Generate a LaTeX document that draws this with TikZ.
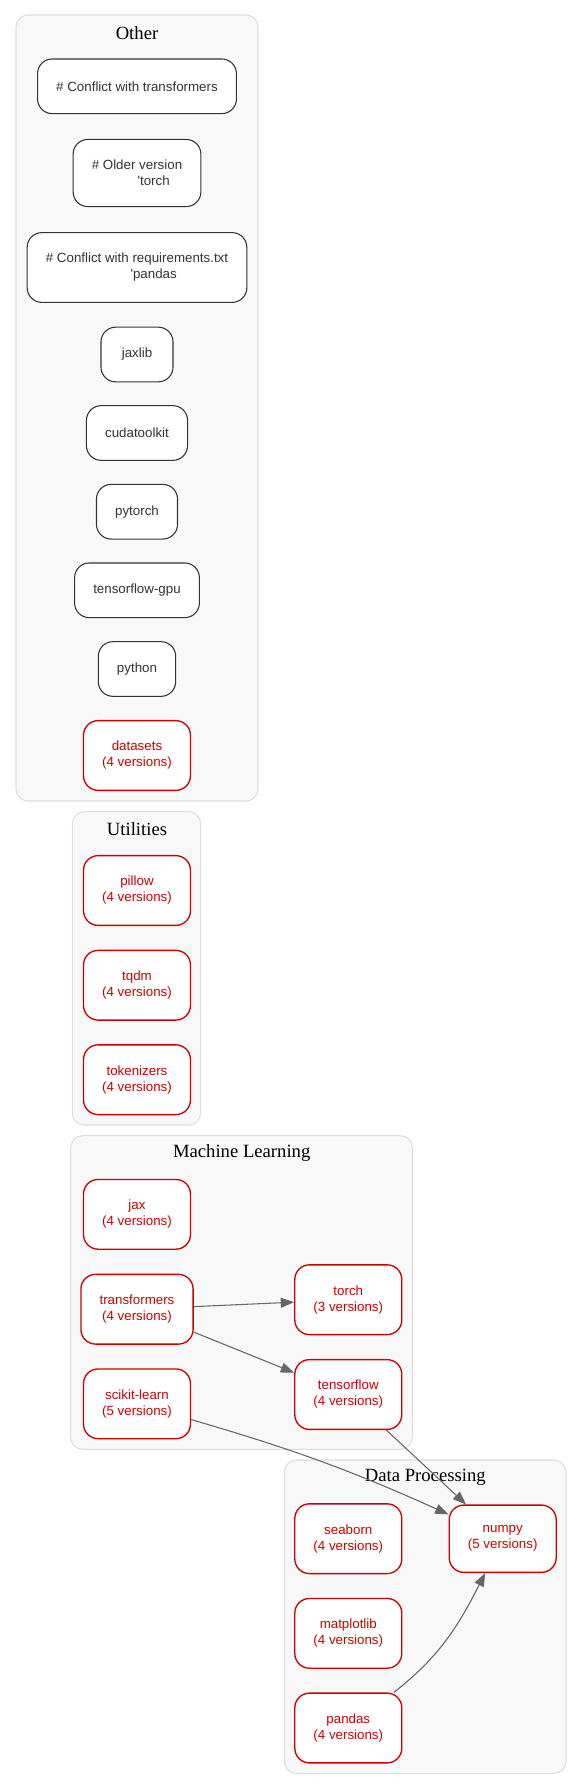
\documentclass[tikz,border=0pt]{standalone}
\usepackage{fontspec}
\newfontfamily\pkgfont{Liberation Sans}
\newfontfamily\groupfont{Liberation Serif}
\usetikzlibrary{arrows.meta}
\definecolor{conflictred}{HTML}{CC0000}
\definecolor{pkgdark}{HTML}{333333}
\definecolor{groupfill}{HTML}{F8F8F8}
\definecolor{groupline}{HTML}{DDDDDD}
\definecolor{depgray}{HTML}{666666}
\begin{document}
\begin{tikzpicture}[x=0.75pt, y=0.75pt,
    pkg/.style={draw=pkgdark, text=pkgdark, fill=white, line width=0.8pt,
        rounded corners=11pt, font=\pkgfont\fontsize{10}{12}\selectfont,
        align=center, inner xsep=14pt, inner ysep=15.5pt,
        minimum width=54pt, minimum height=41pt},
    conflictpkg/.style={pkg, draw=conflictred, text=conflictred, line width=1pt},
    group/.style={draw=groupline, fill=groupfill, line width=0.8pt, rounded corners=9pt},
    grouplabel/.style={font=\groupfont\fontsize{14}{17}\selectfont, text=black},
    dep/.style={draw=depgray, line width=0.8pt, -{Triangle[length=10pt, width=7.5pt]}}]
    \useasboundingbox (0,0) rectangle (583,-1789);

    % Other
    \draw [group] (16,-15) rectangle (258,-801);
    \node [grouplabel] (otherlbl) at (137,-33) {Other};
    \node [pkg] (conftrans) at (137,-86.3) {\# Conflict with transformers};
    \node [pkg] (oldtorch) at (137,-173) {\# Older version\\\hspace*{25pt}\textquotesingle torch};
    \node [pkg] (confreq) at (137,-267.5) {\# Conflict with requirements.txt\\\hspace*{25pt}\textquotesingle pandas};
    \node [pkg] (jaxlib) at (137,-354.5) {jaxlib};
    \node [pkg] (cudatoolkit) at (137,-433) {cudatoolkit};
    \node [pkg] (pytorch) at (137,-511.7) {pytorch};
    \node [pkg] (tfgpu) at (137,-590.3) {tensorflow-gpu};
    \node [pkg] (python) at (137,-669) {python};
    \node [conflictpkg] (datasets) at (137,-755.5) {datasets\\(4 versions)};

    % Utilities
    \draw [group] (72.3,-811.7) rectangle (200.7,-1125);
    \node [grouplabel] (utillbl) at (137,-829.3) {Utilities};
    \node [conflictpkg] (pillow) at (137,-890.5) {pillow\\(4 versions)};
    \node [conflictpkg] (tqdm) at (137,-985.2) {tqdm\\(4 versions)};
    \node [conflictpkg] (tokenizers) at (137,-1079.7) {tokenizers\\(4 versions)};

    % Machine Learning
    \draw [group] (70.7,-1135.7) rectangle (412.3,-1449.3);
    \node [grouplabel] (mllbl) at (241.7,-1153.3) {Machine Learning};
    \node [conflictpkg] (jax) at (137,-1214.3) {jax\\(4 versions)};
    \node [conflictpkg] (transformers) at (137,-1309.2) {transformers\\(4 versions)};
    \node [conflictpkg] (sklearn) at (137,-1403.8) {scikit-learn\\(5 versions)};
    \node [conflictpkg] (torch) at (348.3,-1299.7) {torch\\(3 versions)};
    \node [conflictpkg] (tensorflow) at (348.3,-1394.5) {tensorflow\\(4 versions)};

    % Data Processing
    \draw [group] (284.3,-1460) rectangle (566,-1773.3);
    \node [grouplabel] (dplbl) at (425.3,-1477.3) {Data Processing};
    \node [conflictpkg] (seaborn) at (348.3,-1538.7) {seaborn\\(4 versions)};
    \node [conflictpkg] (matplotlib) at (348.3,-1633.3) {matplotlib\\(4 versions)};
    \node [conflictpkg] (pandas) at (348.3,-1728) {pandas\\(4 versions)};
    \node [conflictpkg] (numpy) at (502.7,-1538.7) {numpy\\(5 versions)};

    % Dependencies
    \draw [dep] (transformers) -- (torch);
    \draw [dep] (transformers) -- (tensorflow);
    \draw [dep] (sklearn) to [bend left=4] (numpy);
    \draw [dep] (tensorflow) -- (numpy);
    \draw [dep] (pandas) to [out=38, in=243] (numpy);
\end{tikzpicture}
\end{document}
